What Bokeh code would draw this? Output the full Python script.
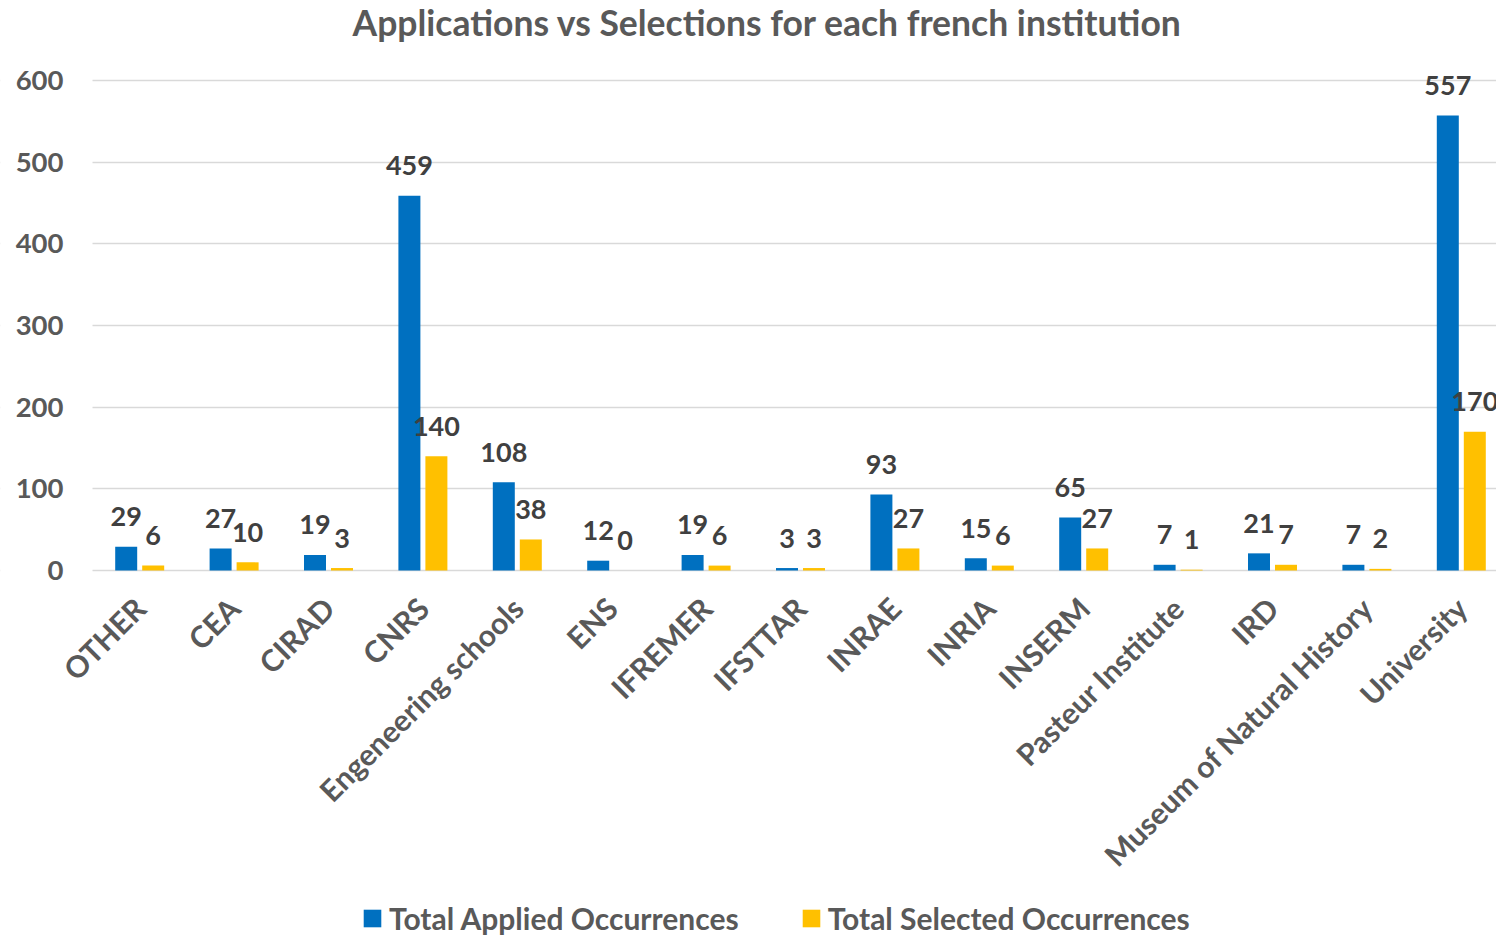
import math
from bokeh.plotting import figure
from bokeh.models import (ColumnDataSource, Range1d, FixedTicker, Legend, LegendItem, Label,
                          BoxAnnotation)
from bokeh.transform import dodge
from bokeh.core.properties import value
from bokeh.embed import file_html
from bokeh.resources import INLINE

institutions = ["OTHER", "CEA", "CIRAD", "CNRS", "Engeneering schools", "ENS", "IFREMER",
                "IFSTTAR", "INRAE", "INRIA", "INSERM", "Pasteur Institute", "IRD",
                "Museum of Natural History", "University"]
applied = [29, 27, 19, 459, 108, 12, 19, 3, 93, 15, 65, 7, 21, 7, 557]
selected = [6, 10, 3, 140, 38, 0, 6, 3, 27, 6, 27, 1, 7, 2, 170]
y_ticks = [0, 100, 200, 300, 400, 500, 600]
title_text = "Applications vs Selections for each french institution"

BLUE = "#0070C0"
GOLD = "#FFC000"
FONT = "Lato"
TXT = "#595959"
LBL = "#404040"

W, H = 1496, 936
# layout in pixels: plot area left edge at 92, category pitch 94.4, value 0 at 570, 600 at 80
PX_X = 94.4
PLOT_LEFT = -0.5
X_START = PLOT_LEFT - 92 / PX_X
X_END = X_START + W / PX_X
PX_Y = 490 / 600
Y_TOP = 600 + 80 / PX_Y
Y_BOT = 0 - (H - 570) / PX_Y

idx = list(range(len(institutions)))
src = ColumnDataSource(dict(x=idx, applied=applied, selected=selected,
                            applied_t=[str(v) for v in applied],
                            selected_t=[str(v) for v in selected]))

p = figure(width=W, height=H, output_backend="svg", toolbar_location=None,
           x_range=Range1d(X_START, X_END), y_range=Range1d(Y_BOT, Y_TOP),
           min_border_left=0, min_border_right=0, min_border_top=0, min_border_bottom=0)
p.outline_line_color = None
p.background_fill_color = "white"
p.border_fill_color = "white"

off = 0.143
w = 0.233
r1 = p.vbar(x=dodge("x", -off), top="applied", width=w, source=src, color=BLUE, line_color=None)
r2 = p.vbar(x=dodge("x", off), top="selected", width=w, source=src, color=GOLD, line_color=None)

p.text(x=dodge("x", -off), y="applied", text="applied_t", source=src, text_align="center",
       text_baseline="middle", y_offset=-30, text_font=value(FONT), text_font_style="bold",
       text_font_size="27px", text_color=LBL)
p.text(x=dodge("x", off), y="selected", text="selected_t", source=src, text_align="center",
       text_baseline="middle", y_offset=-30, text_font=value(FONT), text_font_style="bold",
       text_font_size="27px", text_color=LBL)

# axes (drawn at the plot-area edges)
p.xaxis.fixed_location = 0
p.xaxis.ticker = FixedTicker(ticks=idx)
p.xaxis.major_label_overrides = {i: n for i, n in enumerate(institutions)}
p.xaxis.major_label_orientation = math.pi / 4
p.xaxis.axis_line_color = None
p.xaxis.major_tick_line_color = None
p.xaxis.minor_tick_line_color = None
p.xaxis.major_label_text_font = FONT
p.xaxis.major_label_text_font_style = "bold"
p.xaxis.major_label_text_font_size = "30px"
p.xaxis.major_label_text_color = TXT
p.xaxis.major_label_standoff = 26

p.yaxis.fixed_location = PLOT_LEFT
p.yaxis.ticker = FixedTicker(ticks=y_ticks)
p.yaxis.axis_line_color = None
p.yaxis.major_tick_line_color = None
p.yaxis.minor_tick_line_color = None
p.yaxis.major_label_text_font = FONT
p.yaxis.major_label_text_font_style = "bold"
p.yaxis.major_label_text_font_size = "27.5px"
p.yaxis.major_label_text_color = TXT
p.yaxis.major_label_standoff = 23

p.xgrid.grid_line_color = None
p.ygrid.grid_line_color = "#D9D9D9"
p.ygrid.grid_line_width = 1.5

# keep the gridlines inside the plot area
p.add_layout(BoxAnnotation(right=PLOT_LEFT, fill_color="white", fill_alpha=1,
                           line_color=None, level="underlay"))

# title (screen units, relative to the frame's lower-left corner)
p.add_layout(Label(x=767, y=H - 22, x_units="screen", y_units="screen", text=title_text,
                   text_align="center", text_baseline="middle", text_font=FONT,
                   text_font_style="bold", text_font_size="35.5px", text_color=TXT))

legend = Legend(items=[LegendItem(label="Total Applied Occurrences", renderers=[r1]),
                       LegendItem(label="Total Selected Occurrences", renderers=[r2])],
                orientation="horizontal", location=(361, 0),
                label_text_font=FONT, label_text_font_style="bold", label_text_font_size="30px",
                label_text_color=TXT, glyph_width=22, glyph_height=22, label_standoff=6,
                spacing=61, border_line_color=None, background_fill_alpha=0, padding=0, margin=0)
p.add_layout(legend, "center")

open("out.html", "w").write(file_html(p, INLINE))
